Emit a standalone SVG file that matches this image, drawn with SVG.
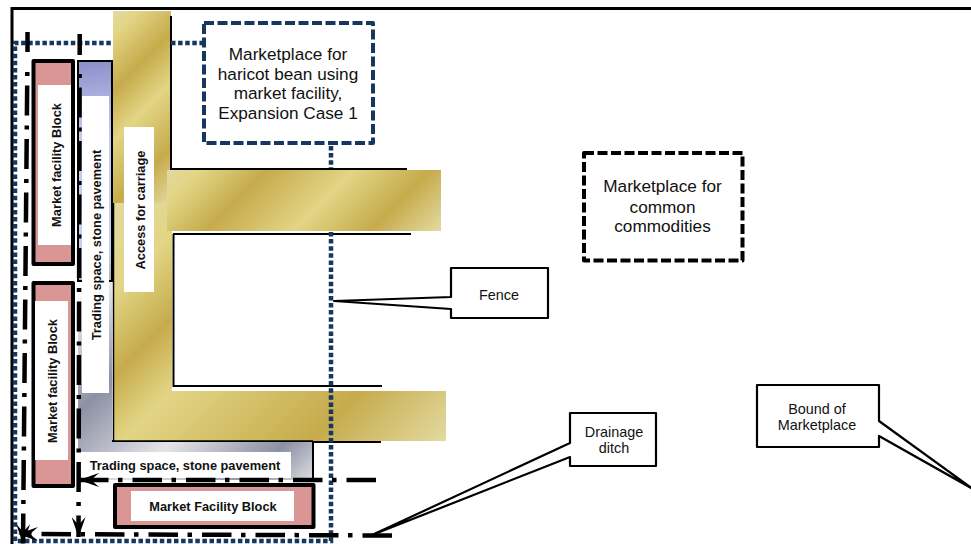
<svg xmlns="http://www.w3.org/2000/svg" width="971" height="544" viewBox="0 0 971 544">
<style>
.sans{font-family:"Liberation Sans",Arial,sans-serif;fill:#111}
.bold{font-weight:bold;font-size:12.8px;text-anchor:middle}
.lab{font-size:17.2px;text-anchor:middle}
.small{font-size:14.4px;text-anchor:middle}
.block{fill:#DA9694;stroke:#000;stroke-width:4;stroke-linejoin:round}
.wh{fill:#fff}
.fence{fill:none;stroke:#000;stroke-width:2}
.dot{fill:none;stroke:#17375E;stroke-width:4.500;stroke-dasharray:4.500 2.600}
.dd{fill:none;stroke:#000;stroke-width:4.500}
.dv{stroke-dasharray:4 9.500 30 10}
.dh{stroke-dasharray:29.500 10 4.500 9.500}
.call{fill:#fff;stroke:#000;stroke-width:2.200;stroke-linejoin:round}
.dbox{fill:#fff;stroke-width:4;stroke-linejoin:round;stroke-dasharray:10 3.500}
</style>
<defs>
<linearGradient id="g1" gradientUnits="userSpaceOnUse" x1="62" y1="62" x2="187" y2="187"><stop offset="0" stop-color="#E3D9A0"/><stop offset=".1" stop-color="#E2D585"/><stop offset=".32" stop-color="#C6AB4C"/><stop offset=".52" stop-color="#E2D585"/><stop offset=".78" stop-color="#C6AB4C"/><stop offset="1" stop-color="#E3D9A0"/></linearGradient>
<linearGradient id="g2" gradientUnits="userSpaceOnUse" x1="168.500" y1="168.500" x2="335.500" y2="335.500"><stop offset="0" stop-color="#E3D9A0"/><stop offset=".1" stop-color="#E2D585"/><stop offset=".3" stop-color="#C6AB4C"/><stop offset=".56" stop-color="#E2D585"/><stop offset=".79" stop-color="#C6AB4C"/><stop offset="1" stop-color="#E3D9A0"/></linearGradient>
<linearGradient id="g3" gradientUnits="userSpaceOnUse" x1="158" y1="158" x2="443.500" y2="443.500"><stop offset="0" stop-color="#E3D9A0"/><stop offset=".16" stop-color="#E2D585"/><stop offset=".305" stop-color="#C6AB4C"/><stop offset=".43" stop-color="#E2D585"/><stop offset=".76" stop-color="#C6AB4C"/><stop offset="1" stop-color="#E3D9A0"/></linearGradient>
<linearGradient id="p" gradientUnits="userSpaceOnUse" x1="85" y1="61" x2="105" y2="281"><stop offset="0" stop-color="#8A8FC8"/><stop offset=".17" stop-color="#ABB0E0"/><stop offset=".35" stop-color="#C5CBEF"/><stop offset=".85" stop-color="#C5D0F0"/><stop offset="1" stop-color="#A8B8B0"/></linearGradient>
<linearGradient id="s" gradientUnits="userSpaceOnUse" x1="184" y1="184" x2="395" y2="395"><stop offset="0" stop-color="#fff"/><stop offset=".29" stop-color="#8C90A4"/><stop offset=".58" stop-color="#E4E4E8"/><stop offset=".855" stop-color="#8C90A4"/><stop offset="1" stop-color="#DADADF"/></linearGradient>
<marker id="ah" viewBox="0 0 20 14" refX="20" refY="7" markerWidth="20" markerHeight="14" markerUnits="userSpaceOnUse" orient="auto"><path d="M0,0L20,7L0,14L8,7Z" fill="#000"/></marker>
</defs>
<rect width="971" height="544" fill="#fff"/>
<path d="M971,8.500H12V544" fill="none" stroke="#000" stroke-width="3"/>

<g id="pavement">
<path d="M78,281H112V441H313V480H78Z" fill="url(#s)"/>
<rect x="78" y="61" width="34" height="220" fill="url(#p)" stroke="#000" stroke-width="2"/>
<path d="M112,441H313V480" fill="none" stroke="#000" stroke-width="2"/>
</g>
<g id="gold-road">
<rect x="113" y="203" width="59" height="238" fill="url(#g3)"/>
<rect x="113" y="391" width="333" height="50" fill="url(#g3)"/>
<rect x="113" y="11" width="58" height="192" fill="url(#g1)"/>
<rect x="167" y="170" width="274" height="61" fill="url(#g2)"/>
<path d="M113.500,203V441H313" fill="none" stroke="#000" stroke-width="1.500"/>
</g>
<g id="fences">
<path class="fence" d="M171,16V169H407"/>
<path class="fence" d="M173,234H411M173.500,234V386H382"/>
<path class="fence" d="M313,442H381"/>
</g>
<g id="labels-white">
<rect class="wh" x="82" y="96" width="27" height="297"/>
<rect class="wh" x="78" y="452" width="213" height="26"/>
<rect class="wh" x="124" y="127" width="30" height="165"/>
<text class="sans bold" transform="translate(101,245) rotate(-90)">Trading space, stone pavement</text>
<text class="sans bold" x="185" y="470">Trading space, stone pavement</text>
<text class="sans bold" transform="translate(145,210) rotate(-90)">Access for carriage</text>
</g>

<g id="block-1">
<rect class="block" x="33.500" y="61" width="39.500" height="203"/>
<rect class="wh" x="38" y="85" width="33" height="160"/>
<text class="sans bold" transform="translate(61,165) rotate(-90)">Market facility Block</text>
</g>
<g id="block-2">
<rect class="block" x="33.500" y="283" width="39.500" height="203"/>
<rect class="wh" x="35" y="301" width="33" height="159"/>
<text class="sans bold" transform="translate(57,381) rotate(-90)">Market facility Block</text>
</g>
<g id="block-3">
<rect class="block" x="115" y="485" width="198.500" height="42"/>
<rect class="wh" x="131" y="491" width="163" height="30"/>
<text class="sans bold" x="213" y="511">Market Facility Block</text>
</g>

<g id="connectors">
<path class="dot" d="M15,541V43H113M171,43H203M331,146V168M331,232V541H15"/>
<path class="dd" d="M27.500,32V52"/>
<path class="dd dv" d="M27.300,72L23,544" marker-end="url(#ah)"/>
<path class="dd" d="M79.700,34V55"/>
<path class="dd dv" d="M79.600,74L78.500,537" marker-end="url(#ah)"/>
<path class="dd dh" d="M376,480H79" marker-end="url(#ah)"/>
<path class="dd dh" d="M392,535.500L18,534" marker-end="url(#ah)"/>
</g>

<g id="haricot">
<rect class="dbox" x="204" y="23" width="169" height="120" stroke="#17375E"/>
<text class="sans lab"><tspan x="288" y="60">Marketplace for</tspan><tspan x="288" y="80">haricot bean using</tspan><tspan x="288" y="99">market facility,</tspan><tspan x="288" y="119">Expansion Case 1</tspan></text>
</g>
<g id="common">
<rect class="dbox" x="584" y="153" width="158.500" height="107.500" stroke="#000"/>
<text class="sans lab"><tspan x="662.500" y="192">Marketplace for</tspan><tspan x="662.500" y="213">common</tspan><tspan x="662.500" y="232">commodities</tspan></text>
</g>
<g id="fence-callout">
<path class="call" d="M451,268H548V318H451V309L334,301L451,297Z"/>
<text class="sans small" x="499" y="300">Fence</text>
</g>
<g id="drainage-callout">
<path class="call" d="M570,413H656V466H570V457L372,535L570,443Z"/>
<text class="sans small"><tspan x="614" y="437">Drainage</tspan><tspan x="614" y="453">ditch</tspan></text>
</g>
<g id="bound-callout">
<path class="call" d="M757,385H879V421L973,489L879,436V447H757Z"/>
<text class="sans small"><tspan x="817" y="414">Bound of</tspan><tspan x="817" y="430">Marketplace</tspan></text>
</g>
</svg>
